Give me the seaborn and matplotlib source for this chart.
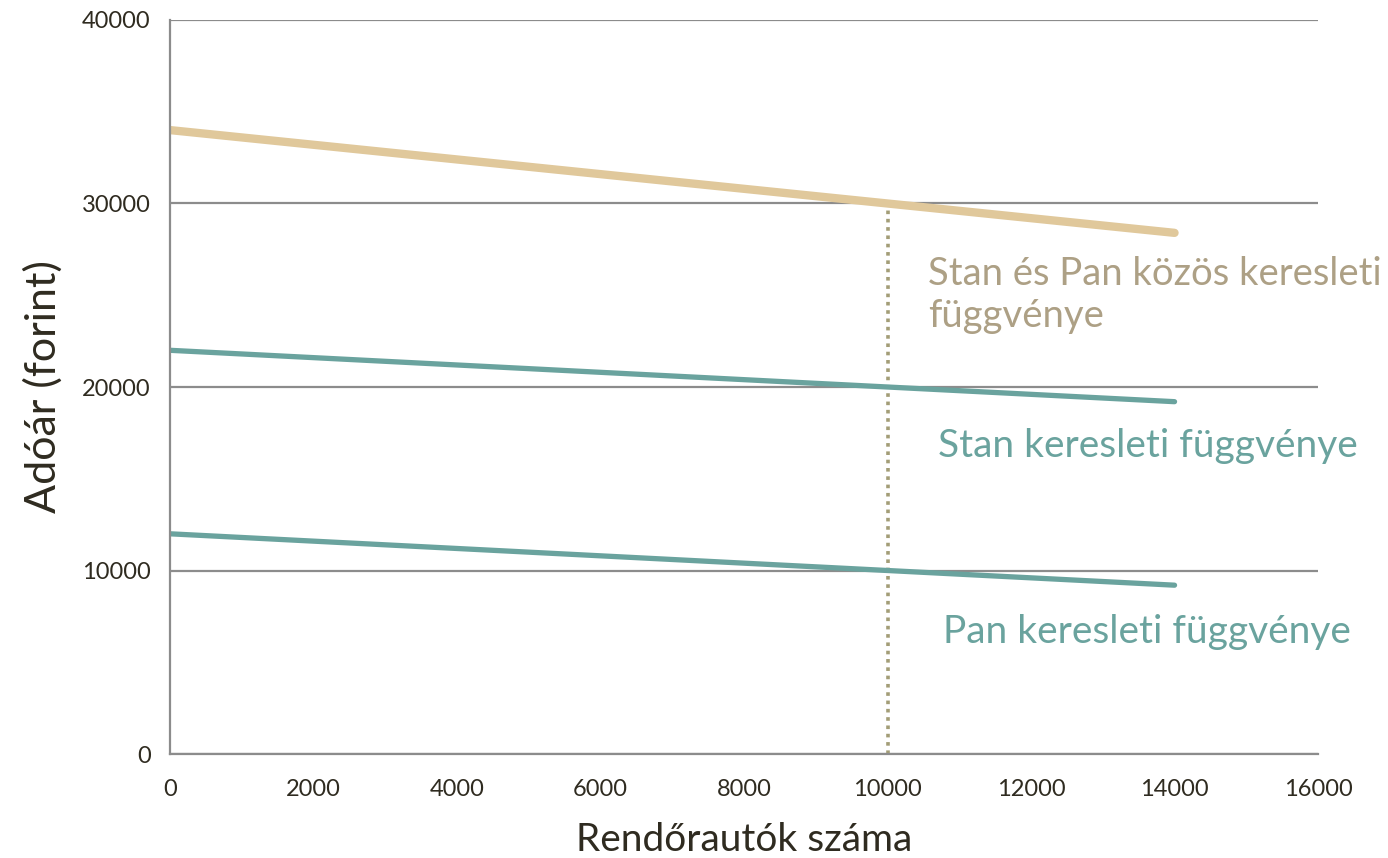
import matplotlib
matplotlib.use("Agg")
import matplotlib.pyplot as plt
import seaborn as sns

# data
autok = [0, 14000]
kozos = [34000, 28400]
stan = [22000, 19200]
pan = [12000, 9200]
egyensuly_x = [10000, 10000]
egyensuly_y = [0, 30000]

x_ticks = list(range(0, 16001, 2000))
y_ticks = list(range(0, 40001, 10000))

sns.set_theme(style="white")
plt.rcParams['font.family'] = ['Lato', 'DejaVu Sans']

fig = plt.figure(figsize=(13.88, 8.58), dpi=100)
ax = fig.add_axes([0.1225, 0.1212, 0.8271, 0.8555])

grid_c = '#8c8c8c'
tan = '#e0c89b'
teal = '#6aa39e'

# vertical dotted line at the equilibrium quantity (no aggregation!)
sns.lineplot(x=egyensuly_x, y=egyensuly_y, ax=ax, color='#a39d77',
             linewidth=2.6, estimator=None, sort=False)
ax.lines[-1].set_linestyle((0, (1, 1.3)))
sns.lineplot(x=autok, y=kozos, ax=ax, color=tan, linewidth=6,
             solid_capstyle='round')
sns.lineplot(x=autok, y=stan, ax=ax, color=teal, linewidth=3.8,
             solid_capstyle='round')
sns.lineplot(x=autok, y=pan, ax=ax, color=teal, linewidth=3.8,
             solid_capstyle='round')

ax.set_xlim(0, 16000)
ax.set_ylim(0, 40000)
ax.set_xticks(x_ticks)
ax.set_yticks(y_ticks)
ax.yaxis.grid(True, color=grid_c, linewidth=1.6, zorder=0)
ax.set_axisbelow(True)

for s in ['top', 'right']:
    ax.spines[s].set_visible(False)
for s in ['left', 'bottom']:
    ax.spines[s].set_color(grid_c)
    ax.spines[s].set_linewidth(1.6)

ax.tick_params(axis='both', direction='out', length=8, width=1.6,
               color=grid_c, labelsize=17, labelcolor='#2f2b20', pad=6)
ax.tick_params(axis='x', pad=10)

ax.set_xlabel('Rendőrautók száma', fontsize=28, color='#2f2b20', labelpad=16)
ax.set_ylabel('Adóár (forint)', fontsize=31, color='#2f2b20', labelpad=14)

ax.text(10560, 25000, 'Stan és Pan közös keresleti\nfüggvénye', fontsize=27.5,
        color='#ada085', va='center', ha='left', linespacing=1.2)
ax.text(10700, 16800, 'Stan keresleti függvénye', fontsize=28,
        color=teal, va='center', ha='left')
ax.text(10770, 6650, 'Pan keresleti függvénye', fontsize=28,
        color=teal, va='center', ha='left')

fig.savefig('out.png', dpi=100)
